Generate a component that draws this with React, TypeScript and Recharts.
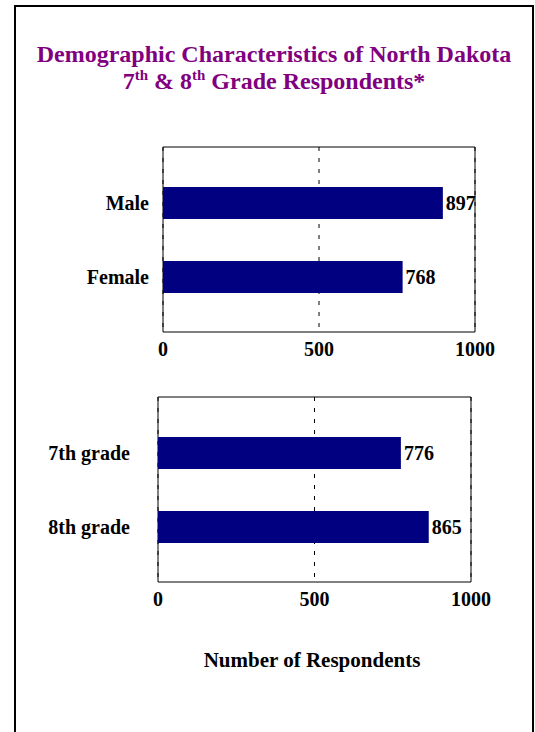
import { BarChart, Bar, XAxis, YAxis, CartesianGrid, ReferenceArea, LabelList } from 'recharts';

const genderLabels = ['Male', 'Female'];
const genderCounts = [897, 768];
const gradeLabels = ['7th grade', '8th grade'];
const gradeCounts = [776, 865];
const xTicks = [0, 500, 1000];

const serif = '"Liberation Serif", "Times New Roman", serif';
const textStyle = { fontFamily: serif, fontWeight: 700, fontSize: 20, fill: '#000' };

interface PanelProps {
  labels: string[];
  values: number[];
  top: number;
  plotLeft: number;
  plotRight: number;
  labelGap: number;
}

function Panel({ labels, values, top, plotLeft, plotRight, labelGap }: PanelProps) {
  const data = labels.map((name, i) => ({ name, value: values[i] }));
  return (
    <div style={{ position: 'absolute', left: 0, top }}>
      <BarChart
        width={535}
        height={250}
        layout="vertical"
        data={data}
        margin={{ top: 27, right: 535 - plotRight, bottom: 8, left: 0 }}
      >
        <CartesianGrid horizontal={false} stroke="#000" strokeDasharray="4 7" />
        <XAxis
          type="number"
          domain={[0, 1000]}
          ticks={xTicks}
          axisLine={false}
          tickLine={false}
          tickMargin={4}
          height={30}
          tick={textStyle}
        />
        <YAxis
          type="category"
          dataKey="name"
          width={plotLeft}
          axisLine={false}
          tickLine={false}
          tickMargin={labelGap - 6}
          padding={{ top: 19, bottom: 18 }}
          tick={textStyle}
        />
        {/* hidden 0..1 axis so the box can span the whole plot height */}
        <YAxis yAxisId="box" type="number" domain={[0, 1]} hide />
        <Bar dataKey="value" fill="#000080" barSize={32} isAnimationActive={false}>
          <LabelList dataKey="value" position="right" offset={3} style={textStyle} />
        </Bar>
        <ReferenceArea
          yAxisId="box"
          x1={0}
          x2={1000}
          y1={0}
          y2={1}
          fill="none"
          fillOpacity={0}
          stroke="#000"
          strokeWidth={1}
          ifOverflow="visible"
        />
      </BarChart>
    </div>
  );
}

export default function App() {
  return (
    <div style={{ position: 'absolute', left: 0, top: 0, width: 535, height: 732, overflow: 'hidden', background: '#fff' }}>
      <div
        style={{
          position: 'absolute',
          left: 14,
          top: 5,
          width: 516,
          height: 760,
          border: '2px solid #000',
        }}
      />
      <div
        style={{
          position: 'absolute',
          left: 14,
          width: 520,
          top: 41,
          textAlign: 'center',
          fontFamily: serif,
          fontWeight: 700,
          fontSize: 24,
          lineHeight: '27px',
          color: '#800080',
        }}
      >
        <div>Demographic Characteristics of North Dakota</div>
        <div>
          7<sup style={{ fontSize: 15, lineHeight: 0 }}>th</sup> &amp; 8
          <sup style={{ fontSize: 15, lineHeight: 0 }}>th</sup> Grade Respondents*
        </div>
      </div>
      <Panel labels={genderLabels} values={genderCounts} top={120} plotLeft={163} plotRight={475} labelGap={14} />
      <Panel labels={gradeLabels} values={gradeCounts} top={370} plotLeft={158} plotRight={471} labelGap={28} />
      <div
        style={{
          position: 'absolute',
          left: 112,
          width: 400,
          top: 648,
          textAlign: 'center',
          fontFamily: serif,
          fontWeight: 700,
          fontSize: 21,
          color: '#000',
        }}
      >
        Number of Respondents
      </div>
    </div>
  );
}
